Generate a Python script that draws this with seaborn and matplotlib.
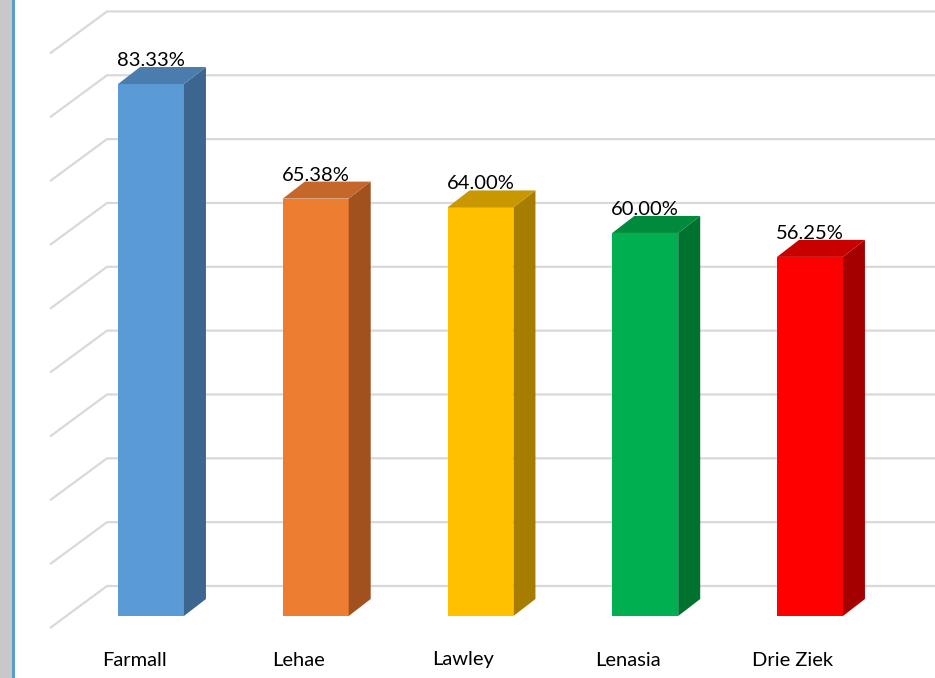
import matplotlib
matplotlib.use("Agg")
import matplotlib.pyplot as plt
from matplotlib.patches import Polygon, Rectangle
import seaborn as sns
import pandas as pd

# Data
categories = ["Farmall", "Lehae", "Lawley", "Lenasia", "Drie Ziek"]
values = [83.33, 65.38, 64.00, 60.00, 56.25]
grid_values = [0, 10, 20, 30, 40, 50, 60, 70, 80, 90]

# Colours: front, side, top
front_colors = ["#5B9BD5", "#ED7D31", "#FFC000", "#00B050", "#FF0000"]
side_colors = ["#3C6690", "#A0511E", "#A67D00", "#00722F", "#A50000"]
top_colors = ["#4A7DAE", "#C5662A", "#C99800", "#008A3C", "#C80000"]

df = pd.DataFrame({"site": categories, "pct": values})

sns.set_style("white")
plt.rcParams["font.family"] = ["Lato", "DejaVu Sans"]

W, H = 935, 678
fig = plt.figure(figsize=(W / 100, H / 100), dpi=100)
ax = fig.add_axes([0, 0, 1, 1])

# pixel scale
px_x = 164.75      # pixels per category step
px_y = 6.384       # pixels per percent
x0_px, y0_px = 151, 616

sns.barplot(data=df, x="site", y="pct", hue="site", palette=front_colors,
            saturation=1, width=0.4, legend=False, ax=ax, zorder=3,
            edgecolor="none")
ax.set_xlim(-x0_px / px_x, (W - x0_px) / px_x)
ax.set_ylim(-(H - y0_px) / px_y, y0_px / px_y)
ax.axis("off")

# 3D depth
dx = 22 / px_x
dy = 17 / px_y

for i, p in enumerate(ax.patches):
    x = p.get_x()
    w = p.get_width()
    h = p.get_height()
    side = Polygon([(x + w, 0), (x + w + dx, dy), (x + w + dx, h + dy), (x + w, h)],
                   closed=True, facecolor=side_colors[i], edgecolor="none", zorder=3)
    top = Polygon([(x, h), (x + dx, h + dy), (x + w + dx, h + dy), (x + w, h)],
                  closed=True, facecolor=top_colors[i], edgecolor="none", zorder=3)
    ax.add_patch(side)
    ax.add_patch(top)
    ax.text(x + w / 2, h + dy - 0.3, f"{values[i]:.2f}%", ha="center", va="bottom",
            fontsize=14.5, color="#000000", zorder=4)

# Gridlines: back wall plus floor diagonal
back_off = 30 / px_y
wall_x = (107 - x0_px) / px_x
front_x = (50 - x0_px) / px_x
front_drop = 42 / px_y
right = (W - x0_px) / px_x
for v in grid_values:
    yb = v + back_off
    ax.plot([front_x, wall_x, right], [yb - front_drop, yb, yb],
            color="#D9D9D9", lw=1.6, zorder=1, solid_capstyle="butt")

# Category labels
for i, c in enumerate(categories):
    ax.text(i - 17 / px_x, -(660 - y0_px) / px_y, c, ha="center", va="center",
            fontsize=14.5, color="#000000")

# Left border strip
fig.add_artist(Rectangle((0, 0), 12 / W, 1, transform=fig.transFigure,
                         facecolor="#C8C8C8", edgecolor="none"))
fig.add_artist(Rectangle((12 / W, 0), 3 / W, 1, transform=fig.transFigure,
                         facecolor="#5B9BD5", edgecolor="none"))

fig.savefig("out.png", dpi=100)
plt.close(fig)
